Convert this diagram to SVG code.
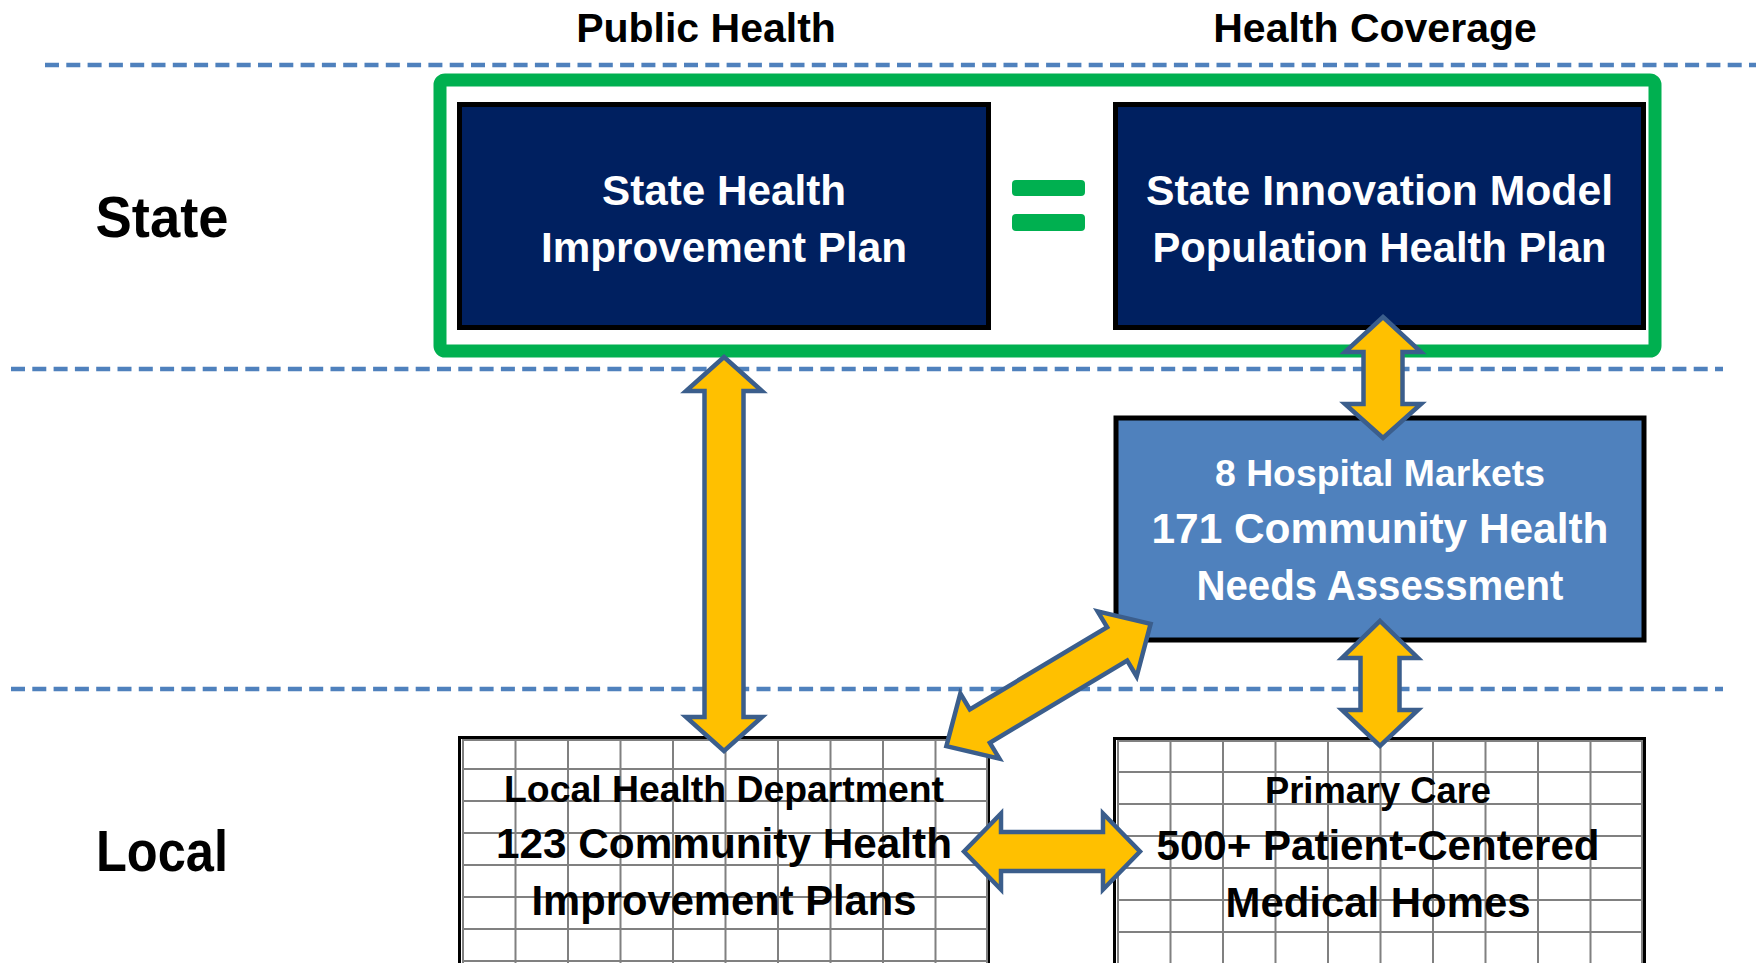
<svg xmlns="http://www.w3.org/2000/svg" width="1756" height="963" viewBox="0 0 1756 963">
<style>
.t{font-family:"Liberation Sans",Arial,sans-serif;font-weight:bold;text-anchor:middle}
.w{fill:#FFFFFF}
.k{fill:#000000}
.dash{stroke:#4F81BD;stroke-width:4.5;stroke-dasharray:14 7.3;fill:none}
.navy{fill:#002060;stroke:#000000;stroke-width:5}
.arrow{fill:#FFC000;stroke:#3B5E8C;stroke-width:4.5;stroke-linejoin:miter}
.grid{stroke:#808080;stroke-width:2;fill:none}
</style>
<rect x="0" y="0" width="1756" height="963" fill="#FFFFFF"/>
<g id="dividers">
<line class="dash" x1="45" y1="65" x2="1756" y2="65"/>
<line class="dash" x1="11" y1="369" x2="1723" y2="369"/>
<line class="dash" x1="11" y1="689" x2="1723" y2="689"/>
</g>
<g id="headers">
<text class="t k" x="706" y="42" font-size="41">Public Health</text>
<text class="t k" x="1375" y="42" font-size="41">Health Coverage</text>
<text class="t k" x="162" y="237" font-size="57" textLength="133" lengthAdjust="spacingAndGlyphs">State</text>
<text class="t k" x="162" y="871" font-size="57" textLength="132" lengthAdjust="spacingAndGlyphs">Local</text>
</g>
<g id="state-group">
<rect x="440" y="80" width="1215" height="271" rx="5" fill="none" stroke="#00B050" stroke-width="13"/>
</g>
<g id="ship">
<rect class="navy" x="459.5" y="104.5" width="529" height="223"/>
<text class="t w" x="724" y="205" font-size="43" textLength="244" lengthAdjust="spacingAndGlyphs">State Health</text>
<text class="t w" x="724" y="262" font-size="43" textLength="366" lengthAdjust="spacingAndGlyphs">Improvement Plan</text>
</g>
<g id="equals">
<rect x="1012" y="180" width="73" height="16" rx="4" fill="#00B050"/>
<rect x="1012" y="214" width="73" height="17" rx="4" fill="#00B050"/>
</g>
<g id="sim">
<rect class="navy" x="1115.5" y="104.5" width="528" height="223"/>
<text class="t w" x="1379.5" y="205" font-size="43" textLength="467" lengthAdjust="spacingAndGlyphs">State Innovation Model</text>
<text class="t w" x="1379.5" y="262" font-size="43" textLength="454" lengthAdjust="spacingAndGlyphs">Population Health Plan</text>
</g>
<g id="hospital">
<rect x="1116" y="418" width="528" height="222" fill="#4F81BD" stroke="#000000" stroke-width="5"/>
<text class="t w" x="1380" y="486" font-size="37" textLength="330" lengthAdjust="spacingAndGlyphs">8 Hospital Markets</text>
<text class="t w" x="1380" y="543" font-size="43" textLength="457" lengthAdjust="spacingAndGlyphs">171 Community Health</text>
<text class="t w" x="1380" y="600" font-size="43" textLength="367" lengthAdjust="spacingAndGlyphs">Needs Assessment</text>
</g>
<g id="local-health">
<rect x="459.5" y="737.5" width="529" height="240" fill="#FFFFFF" stroke="#000000" stroke-width="3"/>
<path class="grid" d="M463 739V963M515.5 739V963M568 739V963M620.5 739V963M673 739V963M725.5 739V963M778 739V963M830.5 739V963M883 739V963M935.5 739V963M987 739V963M463 740H987M463 769H987M463 801H987M463 833H987M463 865H987M463 897H987M463 929H987M463 961H987"/>
<text class="t k" x="724" y="802" font-size="37" textLength="440" lengthAdjust="spacingAndGlyphs">Local Health Department</text>
<text class="t k" x="724" y="858" font-size="43" textLength="456" lengthAdjust="spacingAndGlyphs">123 Community Health</text>
<text class="t k" x="724" y="915" font-size="43" textLength="385" lengthAdjust="spacingAndGlyphs">Improvement Plans</text>
</g>
<g id="primary-care">
<rect x="1114.5" y="738.5" width="530" height="240" fill="#FFFFFF" stroke="#000000" stroke-width="3"/>
<path class="grid" d="M1118 740V963M1170.5 740V963M1223 740V963M1275.5 740V963M1328 740V963M1380.5 740V963M1433 740V963M1485.5 740V963M1538 740V963M1590.5 740V963M1642 740V963M1118 741H1642M1118 772H1642M1118 804H1642M1118 836H1642M1118 868H1642M1118 900H1642M1118 932H1642"/>
<text class="t k" x="1378" y="803" font-size="37" textLength="226" lengthAdjust="spacingAndGlyphs">Primary Care</text>
<text class="t k" x="1378" y="860" font-size="43" textLength="443" lengthAdjust="spacingAndGlyphs">500+ Patient-Centered</text>
<text class="t k" x="1378" y="917" font-size="43" textLength="305" lengthAdjust="spacingAndGlyphs">Medical Homes</text>
</g>
<g id="connectors">
<polygon class="arrow" points="724,357 762,391 743.5,391 743.5,717 762,717 724,751 686,717 704.5,717 704.5,391 686,391"/>
<polygon class="arrow" points="1383,317 1421,352 1402.5,352 1402.5,404 1421,404 1383,438 1345,404 1363.5,404 1363.5,352 1345,352"/>
<polygon class="arrow" points="1380,621 1418,658 1399.5,658 1399.5,710 1418,710 1380,746 1342,710 1360.5,710 1360.5,658 1342,658"/>
<polygon class="arrow" points="964,851.5 1001,813.5 1001,832 1103,832 1103,813.5 1140,851.5 1103,889.5 1103,871 1001,871 1001,889.5"/>
<polygon class="arrow" transform="translate(1048.5,685) rotate(-30.9)" points="119,0 80,-38 80,-19.5 -80,-19.5 -80,-38 -119,0 -80,38 -80,19.5 80,19.5 80,38"/>
</g>
</svg>
